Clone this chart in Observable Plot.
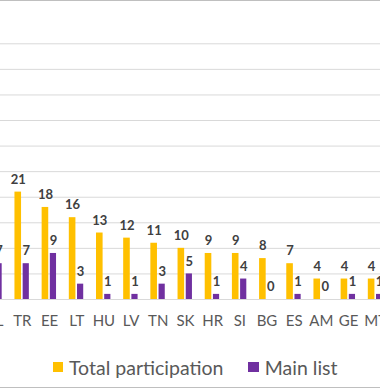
<!DOCTYPE html>
<html>
<head>
<meta charset="utf-8">
<script src="https://cdn.jsdelivr.net/npm/d3@7"></script>
<script src="https://cdn.jsdelivr.net/npm/@observablehq/plot@0.6"></script>
<style>
  html, body { margin: 0; padding: 0; background: #fff; }
  #frame {
    position: relative; width: 380px; height: 386px; overflow: hidden;
    border-top: 1px solid #bfbfbf; border-bottom: 1px solid #bfbfbf;
    font-family: Lato, sans-serif; background: #fff;
  }
  #chart { width: 380px; height: 340px; overflow: hidden; }
  #chart svg { margin-left: -30px; display: block; max-width: none; overflow: hidden; }
  #legend {
    height: 46px; box-sizing: border-box; padding-top: 6px; padding-left: 52.7px;
    display: flex; align-items: center; font-size: 19.5px; color: #595959; white-space: nowrap;
  }
  .item { display: flex; align-items: center; }
  .sw { width: 10.6px; height: 10.6px; margin-right: 5.7px; flex: none; }
</style>
</head>
<body>
<div id="frame">
  <div id="chart"></div>
  <div id="legend"></div>
</div>
<script>
// Country codes (leftmost one is cut off in the original view)
const countries = ["PL", "TR", "EE", "LT", "HU", "LV", "TN", "SK", "HR", "SI", "BG", "ES", "AM", "GE", "MT"];
// Series values (total of the leftmost country is not visible)
const totalParticipation = [null, 21, 18, 16, 13, 12, 11, 10, 9, 9, 8, 7, 4, 4, 4];
const mainList = [7, 7, 9, 3, 1, 1, 3, 5, 1, 4, 0, 1, 0, 1, 1];
// Gridline values
const yTicks = [0, 5, 10, 15, 20, 25, 30, 35, 40, 45, 50];
const seriesNames = ["Total participation", "Main list"];
const seriesColors = ["#FFC000", "#7030A0"];

const data = countries.map((c, i) => ({country: c, total: totalParticipation[i], main: mainList[i]}));

const half = 13.59;
const chart = Plot.plot({
  width: 430,
  height: 340,
  marginLeft: 11.08,
  marginRight: 11.2,
  marginTop: 42.3,
  marginBottom: 42,
  style: {fontFamily: "Lato, sans-serif", background: "#fff"},
  x: {domain: countries, padding: 0, round: false},
  y: {domain: [0, 50], axis: null},
  marks: [
    Plot.gridY(yTicks, {stroke: "#d9d9d9", strokeOpacity: 1}),
    Plot.barY(data, {x: "country", y: "total", fill: seriesColors[0], insetLeft: half - 7.4, insetRight: half + 0.8}),
    Plot.barY(data, {x: "country", y: "main", fill: seriesColors[1], insetLeft: half + 0.8, insetRight: half - 7.0}),
    Plot.text(data, {x: "country", y: "total", text: d => d.total, dx: -4.1, dy: -8.3, lineAnchor: "bottom",
      fontWeight: "bold", fontSize: 13, fill: "#404040"}),
    Plot.text(data, {x: "country", y: "main", text: d => d.main, dx: 3.9, dy: -8.3, lineAnchor: "bottom",
      fontWeight: "bold", fontSize: 13, fill: "#404040"}),
    Plot.axisX({tickSize: 0, tickPadding: 26.7, lineAnchor: "bottom", fontSize: 15, fill: "#595959", label: null})
  ]
});
document.getElementById("chart").appendChild(chart);

const legend = document.getElementById("legend");
seriesNames.forEach((name, i) => {
  const item = document.createElement("div");
  item.className = "item";
  if (i > 0) item.style.marginLeft = "25px";
  const sw = document.createElement("span");
  sw.className = "sw";
  sw.style.background = seriesColors[i];
  const t = document.createElement("span");
  t.textContent = name;
  item.appendChild(sw);
  item.appendChild(t);
  legend.appendChild(item);
});
</script>
</body>
</html>
